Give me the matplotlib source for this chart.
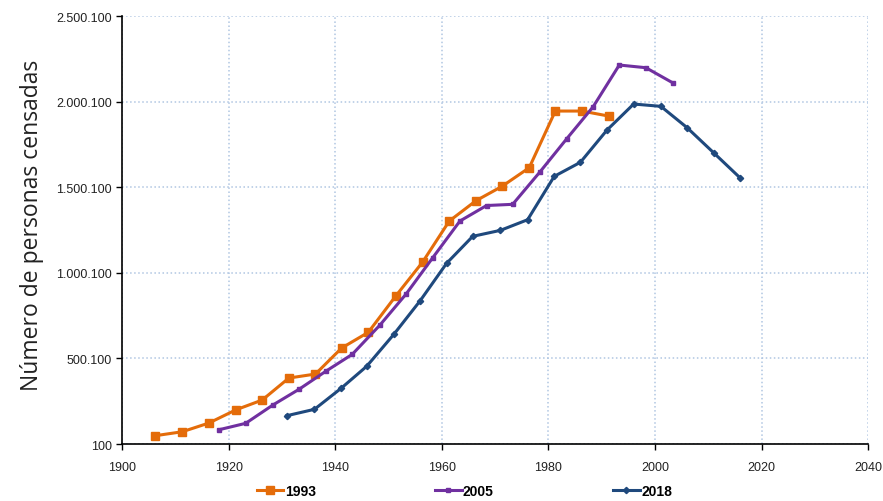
"""Censos: número de personas censadas por año de nacimiento (1993, 2005, 2018)."""

import matplotlib
matplotlib.use("Agg")
import matplotlib.pyplot as plt
from matplotlib.ticker import FixedLocator, FuncFormatter

# ---- datos ----
years_1993 = [1906.2, 1911.3, 1916.3, 1921.4, 1926.3, 1931.3, 1936.3, 1941.2, 1946.2,
              1951.4, 1956.4, 1961.4, 1966.4, 1971.3, 1976.4, 1981.3, 1986.3, 1991.3]
vals_1993 = [48500, 71800, 122700, 200300, 257000, 385500, 408900, 560700, 652400,
             866200, 1063000, 1302500, 1421100, 1505200, 1613900, 1945000, 1945000, 1915800]

years_2005 = [1918.2, 1923.2, 1928.3, 1933.2, 1938.3, 1943.2, 1948.4, 1953.3, 1958.3,
              1963.4, 1968.4, 1973.3, 1978.4, 1983.4, 1988.4, 1993.3, 1998.3, 2003.4]
vals_2005 = [83600, 121000, 227900, 319600, 426500, 524000, 695200, 876300, 1088300,
             1302600, 1393200, 1400200, 1588900, 1781600, 1970300, 2213800, 2198100, 2108700]

years_2018 = [1930.9, 1936.1, 1941.1, 1945.9, 1951.0, 1955.9, 1960.9, 1965.8, 1971.0,
              1976.1, 1981.1, 1986.0, 1991.0, 1996.0, 2001.1, 2006.0, 2011.0, 2016.0]
vals_2018 = [165400, 202800, 325400, 453900, 640800, 835300, 1055500, 1213200, 1248200,
             1310200, 1563700, 1645500, 1834100, 1986000, 1972500, 1848700, 1701600, 1553800]

y_ticks = [100, 500100, 1000100, 1500100, 2000100, 2500100]
x_ticks = [1900, 1920, 1940, 1960, 1980, 2000, 2020, 2040]

fig = plt.figure(figsize=(8.83, 5.02), dpi=100)
ax = fig.add_axes([0.1382, 0.1135, 0.8450, 0.8526])

ax.plot(years_1993, vals_1993, color="#E46C0A", lw=2.2, marker="s", ms=5.5,
        label="1993", zorder=3)
ax.plot(years_2005, vals_2005, color="#7030A0", lw=2.2, marker="s", ms=3.5,
        label="2005", zorder=3)
ax.plot(years_2018, vals_2018, color="#1F497D", lw=2.2, marker="D", ms=3.2,
        label="2018", zorder=3)

ax.set_xlim(1900, 2040)
ax.set_ylim(100, 2500100)
ax.xaxis.set_major_locator(FixedLocator(x_ticks))
ax.yaxis.set_major_locator(FixedLocator(y_ticks))
ax.yaxis.set_major_formatter(FuncFormatter(lambda v, _: f"{int(round(v)):,}".replace(",", ".")))

ax.grid(True, color="#B0C6E2", ls=":", lw=1.1)
for s in ("top", "right"):
    ax.spines[s].set_visible(False)
for s in ("left", "bottom"):
    ax.spines[s].set_color("black")
    ax.spines[s].set_linewidth(1.2)

ax.tick_params(axis="both", labelsize=9, colors="black", length=4, width=1)
for lab in ax.get_xticklabels() + ax.get_yticklabels():
    lab.set_family("Liberation Sans")
    lab.set_color("#222222")
ax.tick_params(axis="x", pad=8)

ax.set_ylabel("Número de personas censadas", fontsize=16.5, family="Open Sans",
              color="#222222")
ax.yaxis.set_label_coords(-0.104, 0.513)

leg = fig.legend(loc="center", bbox_to_anchor=(0.526, 0.02), ncol=3, frameon=False,
                 prop={"family": "Liberation Sans", "weight": "bold", "size": 10},
                 columnspacing=8.6, handlelength=1.9, handletextpad=0.1)

fig.savefig("out.png", dpi=100)
